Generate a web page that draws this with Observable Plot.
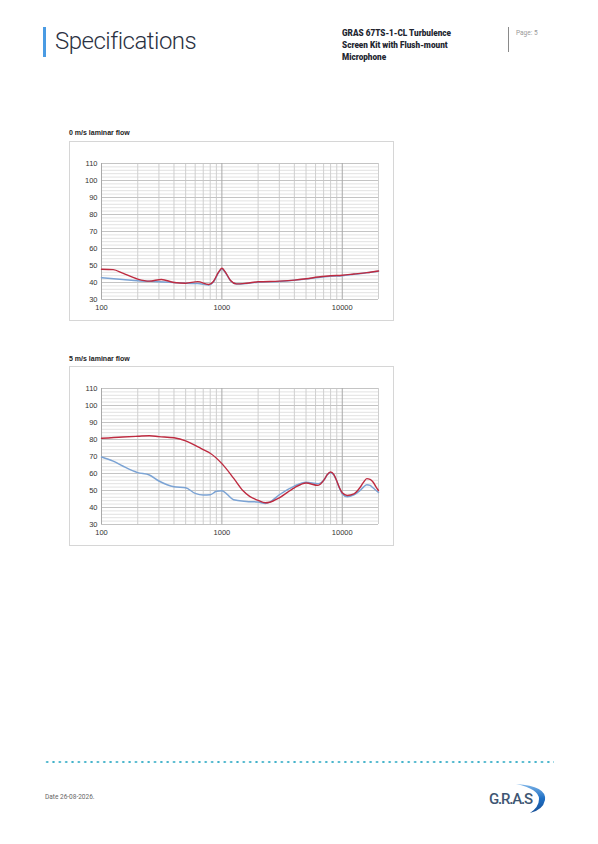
<!DOCTYPE html>
<html><head><meta charset="utf-8">
<script src="https://cdn.jsdelivr.net/npm/d3@7"></script>
<script src="https://cdn.jsdelivr.net/npm/@observablehq/plot@0.6"></script>
<style>
body{margin:0;background:#fff;width:598px;height:844px;position:relative;overflow:hidden;font-family:Roboto,"Liberation Sans",sans-serif;}
.abs{position:absolute;white-space:nowrap;}
.box{position:absolute;border:1px solid #d6d6d6;box-sizing:border-box;width:325px;height:180px;}
.box svg{position:absolute;left:0;top:0;}
.ctitle{position:absolute;font-family:"Liberation Sans",Arial,sans-serif;font-weight:bold;font-size:7px;color:#222;}
</style></head><body>
<div class="abs" style="left:43px;top:27px;width:3px;height:30px;background:#4a9be3;"></div>
<div class="abs" style="left:55px;top:27px;font-size:24px;font-weight:300;color:#2b3142;letter-spacing:-0.5px;">Specifications</div>
<div class="abs" style="left:342px;top:27px;font-size:8.2px;font-weight:900;line-height:12px;color:#22252f;">GRAS 67TS-1-CL Turbulence<br>Screen Kit with Flush-mount<br>Microphone</div>
<div class="abs" style="left:508px;top:27px;width:1px;height:25px;background:#8a8a8a;"></div>
<div class="abs" style="left:516px;top:29px;font-size:6.5px;color:#999;">Page: 5</div>

<div class="ctitle" style="left:69px;top:129px;">0 m/s laminar flow</div>
<div class="box" id="c1" style="left:69px;top:141px;"></div>
<div class="ctitle" style="left:69px;top:355px;">5 m/s laminar flow</div>
<div class="box" id="c2" style="left:69px;top:366px;"></div>

<div class="abs" style="left:44px;top:760px;width:510px;height:4px;background-image:radial-gradient(circle,#3fb1c9 0.9px,rgba(255,255,255,0) 1.3px);background-size:6.35px 4px;background-repeat:repeat-x;"></div>
<div class="abs" style="left:45px;top:793px;font-size:6.5px;color:#666;">Date 26-08-2026.</div>
<svg class="abs" style="left:484px;top:780px;" width="66" height="36" viewBox="0 0 66 36">
  <defs><linearGradient id="lg" x1="0" y1="0" x2="0" y2="1"><stop offset="0" stop-color="#7cb4e8"/><stop offset="0.5" stop-color="#1f6fc4"/><stop offset="1" stop-color="#164f96"/></linearGradient></defs>
  <text x="5" y="24" font-family="Roboto, sans-serif" font-size="15" font-weight="500" fill="#3e5673" letter-spacing="-1.2">G.R.A.S</text>
  <path d="M 32 4 Q 63 6 61 20 Q 59 30 46 33 Q 55 27 55 19 Q 55 9 32 4 Z" fill="url(#lg)"/>
</svg>

<script>
// frequency grid (Hz) and level grid (dB)
const xTickLabels = [100, 1000, 10000];
const xGridMinor = [200,300,400,500,600,700,800,900,2000,3000,4000,5000,6000,7000,8000,9000,20000];
const yTickLabels = [30,40,50,60,70,80,90,100,110];
const yGridMinor = [32,34,36,38,42,44,46,48,52,54,56,58,62,64,66,68,72,74,76,78,82,84,86,88,92,94,96,98,102,104,106,108];

// Chart 1: 0 m/s laminar flow
const c1RedFreq = [100,125,150,200,250,315,400,500,630,780,850,940,1000,1060,1180,1320,1600,2000,3000,4000,5000,6300,8000,10000,12500,16000,20000];
const c1RedLevel = [47.8,47.6,45.5,42,40.8,41.8,40,39.6,40.5,38.8,40.6,46.2,48.4,46.5,41.2,39.2,39.6,40.4,40.8,41.4,42.2,43.2,44,44.3,45,45.8,46.8];
const c1BlueFreq = [100,150,200,300,400,500,630,780,850,940,1000,1060,1180,1320,1600,2000,3000,4000,5000,6300,8000,10000,12500,16000,20000];
const c1BlueLevel = [42.8,41.8,41,40.5,40,39.5,39.4,38.6,40.3,45.8,48,46.2,41,39.1,39.4,40.2,40.6,41.3,42,43,43.7,44,44.8,45.7,46.6];

// Chart 2: 5 m/s laminar flow
const c2RedFreq = [100,150,200,250,300,400,500,600,700,800,1000,1250,1500,1700,2000,2300,2500,3000,4000,5000,6300,7100,7500,8000,8500,9000,9500,10000,11000,12500,14000,15000,16000,17000,18000,19000,20000];
const c2RedLevel = [80.7,81.5,81.9,82.2,81.7,81,79.2,76.6,74,71.9,65.8,57.3,49.8,46.5,44.2,42.8,43.1,45.7,51.6,54.4,53,56.5,59.3,60.9,59.5,55.6,51.5,48.7,47.1,48,51.6,54.8,57,56.6,55,52.3,50];
const c2BlueFreq = [100,125,150,200,250,300,400,500,600,700,800,900,1000,1100,1250,1600,2000,2300,2500,3000,4000,5000,6300,7100,7500,8000,8500,9000,9500,10000,11000,12500,14000,15000,16000,17000,18000,20000];
const c2BlueLevel = [69.7,67.3,64.4,60.5,59.1,55.6,52.2,51.6,48.3,47.3,47.5,49.5,49.9,47.9,44.6,43.6,43.2,42.4,43.2,47.5,52.6,54.8,54,56.5,59.2,60.5,59.2,55.6,51.2,48.1,46.3,47.5,49.9,52,53.4,53,51.6,48.8];

const redColor = "#be2b40";
const blueColor = "#7ba3d4";

function pairs(f, v) { return f.map((x, i) => ({f: x, v: v[i]})); }

function chart(redF, redV, blueF, blueV) {
  return Plot.plot({
    width: 323, height: 178,
    marginLeft: 31, marginRight: 15, marginTop: 21, marginBottom: 21,
    style: {fontFamily: "'Liberation Sans', Arial, sans-serif", fontSize: "7.5px", color: "#333", background: "transparent"},
    x: {type: "log", domain: [100, 20000], ticks: xTickLabels, tickFormat: d => String(d), tickSize: 0, tickPadding: 5, label: null},
    y: {domain: [30, 110], ticks: yTickLabels, tickSize: 0, tickPadding: 4, label: null},
    marks: [
      Plot.ruleY(yGridMinor, {stroke: "#e2e2e2", strokeWidth: 1}),
      Plot.ruleX(xGridMinor, {stroke: "#cfcfcf", strokeWidth: 1}),
      Plot.ruleY(yTickLabels, {stroke: "#c4c4c4", strokeWidth: 1}),
      Plot.ruleX(xTickLabels, {stroke: "#a9a9a9", strokeWidth: 1}),
      Plot.line(pairs(blueF, blueV), {x: "f", y: "v", stroke: blueColor, strokeWidth: 1.5, curve: "monotone-x"}),
      Plot.line(pairs(redF, redV), {x: "f", y: "v", stroke: redColor, strokeWidth: 1.4, curve: "monotone-x"})
    ]
  });
}

document.getElementById("c1").appendChild(chart(c1RedFreq, c1RedLevel, c1BlueFreq, c1BlueLevel));
document.getElementById("c2").appendChild(chart(c2RedFreq, c2RedLevel, c2BlueFreq, c2BlueLevel));
</script>
</body></html>
